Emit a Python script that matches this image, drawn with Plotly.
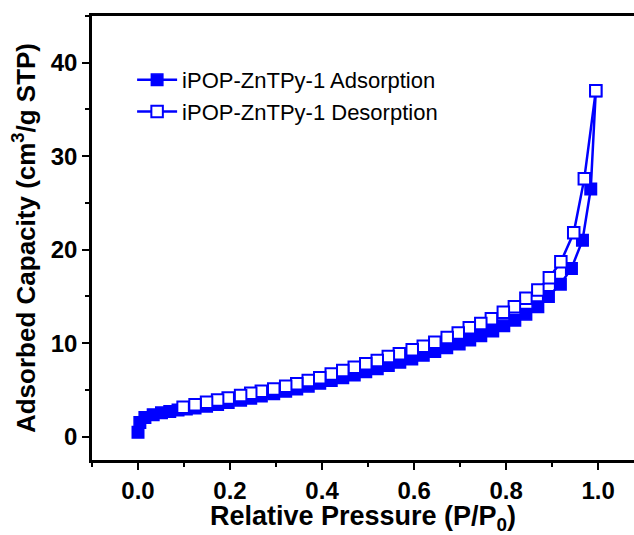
import plotly.graph_objects as go

ads_p = [0.0, 0.004, 0.015, 0.033, 0.051, 0.069, 0.087, 0.105, 0.124, 0.149, 0.173, 0.196,
         0.223, 0.245, 0.268, 0.295, 0.321, 0.345, 0.37, 0.395, 0.42, 0.445, 0.47, 0.495,
         0.52, 0.544, 0.569, 0.595, 0.62, 0.645, 0.671, 0.698, 0.721, 0.745, 0.771, 0.795,
         0.819, 0.843, 0.869, 0.892, 0.918, 0.942, 0.966, 0.984, 0.995]
ads_v = [0.46, 1.5, 2.05, 2.35, 2.55, 2.7, 2.85, 2.95, 3.05, 3.25, 3.45, 3.65,
         3.9, 4.1, 4.35, 4.6, 4.85, 5.1, 5.4, 5.7, 6.0, 6.3, 6.6, 6.95,
         7.25, 7.6, 7.95, 8.3, 8.7, 9.1, 9.5, 9.9, 10.35, 10.8, 11.3, 11.85,
         12.45, 13.1, 13.9, 15.0, 16.3, 18.0, 21.0, 26.5, 37.0]

des_p = [0.995, 0.97, 0.947, 0.919, 0.894, 0.869, 0.843, 0.818, 0.794, 0.768, 0.745, 0.72,
         0.696, 0.672, 0.645, 0.62, 0.596, 0.568, 0.544, 0.52, 0.495, 0.47, 0.445, 0.42,
         0.395, 0.37, 0.345, 0.321, 0.295, 0.268, 0.245, 0.223, 0.196, 0.173, 0.149, 0.124, 0.098]
des_v = [37.0, 27.6, 21.8, 18.7, 17.0, 15.7, 14.8, 13.9, 13.3, 12.6, 12.1, 11.65,
         11.1, 10.6, 10.1, 9.68, 9.3, 8.86, 8.57, 8.14, 7.8, 7.43, 7.07, 6.7,
         6.3, 6.0, 5.65, 5.39, 5.1, 4.86, 4.64, 4.4, 4.12, 3.93, 3.68, 3.4, 3.14]

series_names = ["iPOP-ZnTPy-1 Adsorption", "iPOP-ZnTPy-1 Desorption"]
x_ticks = [0.0, 0.2, 0.4, 0.6, 0.8, 1.0]
y_ticks = [0, 10, 20, 30, 40]

BLUE = "#0000FF"
fig = go.Figure()
fig.add_trace(go.Scatter(
    x=ads_p, y=ads_v, mode="lines+markers", name=series_names[0],
    line=dict(color=BLUE, width=2.5),
    marker=dict(symbol="square", size=11.5, color=BLUE, line=dict(color=BLUE, width=1.5)),
))
fig.add_trace(go.Scatter(
    x=des_p, y=des_v, mode="lines+markers", name=series_names[1],
    line=dict(color=BLUE, width=2.5),
    marker=dict(symbol="square", size=11.5, color="white", line=dict(color=BLUE, width=2)),
))

tickfont = dict(family="Liberation Sans, Arial", size=24, color="black", weight="bold")
xtitlefont = dict(family="Liberation Sans, Arial", size=27, color="black", weight="bold")
ytitlefont = dict(family="Liberation Sans, Arial", size=26, color="black", weight="bold")

fig.update_layout(
    width=634, height=535,
    margin=dict(l=92, r=0, t=16, b=75),
    plot_bgcolor="white", paper_bgcolor="white",
    showlegend=True,
    legend=dict(x=0.074, y=0.903, xanchor="left", yanchor="top",
                bgcolor="rgba(0,0,0,0)", borderwidth=0,
                font=dict(family="Liberation Sans, Arial", size=22, color="black"),
                tracegroupgap=0, itemwidth=40),
    xaxis=dict(
        range=[-0.1, 1.078], tickvals=x_ticks, ticktext=[f"{v:.1f}" for v in x_ticks],
        showgrid=False, zeroline=False,
        showline=True, linecolor="black", linewidth=2.5, mirror=True,
        ticks="outside", ticklen=7, tickwidth=2, tickcolor="black",
        minor=dict(dtick=0.1, tick0=0.1, ticks="outside", ticklen=4, tickwidth=2, tickcolor="black", showgrid=False),
        tickfont=tickfont,
        title=dict(text="Relative Pressure (P/P<sub>0</sub>)", font=xtitlefont, standoff=4),
    ),
    yaxis=dict(
        range=[-2.5, 45], tickvals=y_ticks,
        showgrid=False, zeroline=False,
        showline=True, linecolor="black", linewidth=2.5,
        ticks="outside", ticklen=7, tickwidth=2, tickcolor="black",
        minor=dict(dtick=5, tick0=5, ticks="outside", ticklen=4, tickwidth=2, tickcolor="black", showgrid=False),
        tickfont=tickfont,
        title=dict(text="Adsorbed Capacity (cm<sup>3</sup>/g STP)", font=ytitlefont, standoff=8),
    ),
)

fig.write_html("out.html")
